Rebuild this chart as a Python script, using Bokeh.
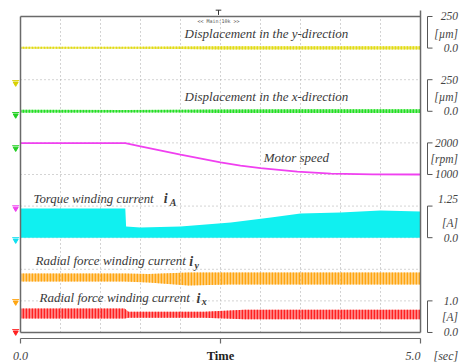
from bokeh.plotting import figure
from bokeh.models import Range1d, ColumnDataSource
from bokeh.core.properties import value
from bokeh.embed import file_html
from bokeh.resources import INLINE

# ---------------- data ----------------
# Displacement in the y-direction (um): envelope of the ripple
disp_y_t = [0.0, 1.3, 2.0, 2.5, 3.5, 5.0]
disp_y_hi = [10, 10, 12, 14, 15, 15]
disp_y_lo = [-6, -6, -8, -11, -12, -12]

# Displacement in the x-direction (um)
disp_x_t = [0.0, 1.3, 2.0, 2.5, 3.5, 5.0]
disp_x_hi = [12, 10, 12, 15, 16, 16]
disp_x_lo = [-12, -10, -10, -13, -13, -13]

# Motor speed (rpm)
speed_t = [0.0, 1.31, 1.5, 2.0, 2.5, 2.75, 3.0, 3.46, 3.88, 4.4, 5.0]
speed_rpm = [1990, 1990, 1890, 1630, 1380, 1280, 1200, 1090, 1030, 1005, 1000]

# Torque winding current iA (A): envelope of the dense band
ia_t = [0.0, 1.31, 1.32, 1.5, 2.0, 2.63, 3.13, 3.5, 4.0, 4.5, 5.0]
ia_hi = [1.15, 1.15, 0.44, 0.40, 0.44, 0.60, 0.80, 0.96, 1.00, 1.08, 1.04]
ia_lo = [0.0, 0.0, 0.0, 0.0, 0.0, 0.0, 0.0, 0.0, 0.0, 0.0, 0.0]

# Radial force winding current iy (A)
iy_t = [0.0, 1.3, 1.6, 2.1, 2.6, 5.0]
iy_hi = [0.87, 0.87, 0.85, 0.90, 0.90, 0.90]
iy_lo = [0.61, 0.61, 0.58, 0.49, 0.52, 0.52]

# Radial force winding current ix (A)
ix_t = [0.0, 1.3, 1.35, 2.3, 2.8, 5.0]
ix_hi = [0.76, 0.76, 0.66, 0.66, 0.72, 0.72]
ix_lo = [0.44, 0.44, 0.47, 0.47, 0.42, 0.42]

# channel settings: (zero level in divisions, units per division)
ch_disp_y = (9.0, 250.0)
ch_disp_x = (7.0, 250.0)
ch_speed = (4.0, 1000.0)
ch_ia = (3.0, 1.25)
ch_iy = (1.0, 1.0)
ch_ix = (0.0, 1.0)

# scale labels on the right
scale_top = ["250", "250", "2000", "1.25", "1.0"]
scale_unit = ["[\u00b5m]", "[\u00b5m]", "[rpm]", "[A]", "[A]"]
scale_bottom = ["0.0", "0.0", "1000", "0.0", "0.0"]

time_ticks = [0.0, 2.5, 5.0]
time_labels = ["0.0", "Time", "5.0"]


def to_div(vals, ch):
    zero, per = ch
    return [zero + v / per for v in vals]


# ---------------- figure ----------------
p = figure(width=465, height=362,
           x_range=Range1d(-0.25, 5.5625), y_range=Range1d(-0.950, 10.506),
           x_axis_type=None, y_axis_type=None,
           output_backend="svg", toolbar_location=None, min_border=0)
p.outline_line_color = None
p.background_fill_color = "white"
p.border_fill_color = "white"

GRID = "#a8a8a8"
FRAME = "#6a6a6a"
TXT = "#3a3a3a"
SERIF = value("Liberation Serif")

# grid (10 x 10 divisions)
gx = [0.5 * i for i in range(1, 10)]
gy = [float(i) for i in range(1, 10)]
p.segment(x0=gx, y0=[0] * len(gx), x1=gx, y1=[10] * len(gx),
          line_color=GRID, line_dash="1 3", line_width=1)
p.segment(x0=[0] * len(gy), y0=gy, x1=[5] * len(gy), y1=gy,
          line_color=GRID, line_dash="1 3", line_width=1)

# traces
p.varea(x=disp_y_t, y1=to_div(disp_y_lo, ch_disp_y), y2=to_div(disp_y_hi, ch_disp_y),
        fill_color="#e2dc10", fill_alpha=0.6, hatch_pattern="vertical_line",
        hatch_color="#e2dc10", hatch_scale=3, hatch_weight=1.5)
p.varea(x=disp_x_t, y1=to_div(disp_x_lo, ch_disp_x), y2=to_div(disp_x_hi, ch_disp_x),
        fill_color="#22e022", fill_alpha=0.6, hatch_pattern="vertical_line",
        hatch_color="#22e022", hatch_scale=3, hatch_weight=1.5)
p.line(x=speed_t, y=to_div(speed_rpm, ch_speed), line_color="#f040f0", line_width=1.8)
p.varea(x=ia_t, y1=to_div(ia_lo, ch_ia), y2=to_div(ia_hi, ch_ia),
        fill_color="#10f0f0")
p.varea(x=iy_t, y1=to_div(iy_lo, ch_iy), y2=to_div(iy_hi, ch_iy),
        fill_color="#ffa510", fill_alpha=0.55, hatch_pattern="vertical_line",
        hatch_color="#ffa510", hatch_scale=3, hatch_weight=1.5)
p.varea(x=ix_t, y1=to_div(ix_lo, ch_ix), y2=to_div(ix_hi, ch_ix),
        fill_color="#ff2020", fill_alpha=0.55, hatch_pattern="vertical_line",
        hatch_color="#ff2020", hatch_scale=3, hatch_weight=1.5)

# frame
p.segment(x0=[0, 0, 0, 5], y0=[0, 10, 0, 0], x1=[5, 5, 0, 5], y1=[0, 10, 10, 10.19],
          line_color=FRAME, line_width=1.5)

# trigger marker and header
p.segment(x0=[2.475], y0=[10.05], x1=[2.475], y1=[10.2], line_color="#333", line_width=1)
p.segment(x0=[2.44], y0=[10.2], x1=[2.51], y1=[10.2], line_color="#333", line_width=1)
p.text(x=[2.475], y=[9.86], text=["<< Main:10k >>"], text_font=value("DejaVu Sans Mono"),
       text_font_size="5px", text_color="#555", text_align="center", text_baseline="middle")

# ground markers at the left
mk_y = [7.88, 6.87, 5.82, 3.92, 2.91, 0.95, 0.0]
mk_c = ["#d8d000", "#22d022", "#22d022", "#f040f0", "#10e0f0", "#ffa510", "#ff2020"]
p.scatter(x=[-0.06] * len(mk_y), y=mk_y, marker="inverted_triangle", size=5,
          fill_color=mk_c, line_color=mk_c)
p.scatter(x=[-0.06] * len(mk_y), y=[v + 0.09 for v in mk_y], marker="dash", size=7,
          line_color=mk_c, line_width=1)

# trace labels
p.text(x=[3.04], y=[5.54], text=["Motor speed"], text_font=SERIF,
       text_font_style="italic", text_font_size="13px", text_color=TXT,
       text_baseline="middle")
p.text(x=[0.1625], y=[4.24], text=["Torque winding current"], text_font=SERIF,
       text_font_style="italic", text_font_size="12.8px", text_color=TXT,
       text_baseline="middle")
lab_rad = ColumnDataSource(dict(
    x=[0.1875, 0.2375], y=[2.28, 1.11],
    t=["Radial force winding current", "Radial force winding current"]))
p.text(x="x", y="y", text="t", source=lab_rad, text_font=SERIF, text_font_style="italic",
       text_font_size="13px", text_color=TXT, text_baseline="middle")
p.text(x=[2.05, 2.05], y=[9.46, 7.47],
       text=["Displacement in the y-direction", "Displacement in the x-direction"],
       text_font=SERIF, text_font_style="italic", text_font_size="13px",
       text_color=TXT, text_baseline="middle")
p.text(x=[1.79, 2.11, 2.2], y=[4.24, 2.24, 1.07], text=["i", "i", "i"],
       text_font=SERIF, text_font_style="bold italic", text_font_size="14px",
       text_color=TXT, text_baseline="middle")
p.text(x=[1.865, 2.175, 2.265], y=[4.11, 2.11, 0.97], text=["A", "y", "x"],
       text_font=SERIF, text_font_style="bold italic", text_font_size="10px",
       text_color=TXT, text_baseline="middle")

# right-hand scale brackets
b_top = [10.0, 8.0, 6.0, 4.0, 1.0]
b_bot = [9.0, 7.0, 5.0, 3.0, 0.0]
top_y = [10.03, 8.0, 6.01, 4.24, 1.01]
unit_y = [9.46, 7.44, 5.5, 3.48, 0.5]
bot_y = [8.99, 7.0, 5.0, 3.0, 0.03]
bx = 5.0875
bx2 = 5.15
n = len(b_top)
p.segment(x0=[bx] * n, y0=b_bot, x1=[bx] * n, y1=b_top, line_color="#555", line_width=1)
p.segment(x0=[bx] * n, y0=b_top, x1=[bx2] * n, y1=b_top, line_color="#555", line_width=1)
p.segment(x0=[bx] * n, y0=b_bot, x1=[bx2] * n, y1=b_bot, line_color="#555", line_width=1)
tx = [5.47] * n
for labels, ys in ((scale_top, top_y), (scale_unit, unit_y), (scale_bottom, bot_y)):
    p.text(x=tx, y=ys, text=labels, text_font=SERIF, text_font_style="italic",
           text_font_size="11.5px", text_color="#444", text_align="right",
           text_baseline="middle")

# time axis below the frame
p.segment(x0=[0], y0=[-0.19], x1=[5], y1=[-0.19], line_color=FRAME, line_width=1.2)
p.segment(x0=time_ticks, y0=[-0.19] * 3, x1=time_ticks, y1=[-0.35] * 3,
          line_color=FRAME, line_width=1.2)
p.text(x=[time_ticks[0]], y=[-0.73], text=[time_labels[0]], text_font=SERIF,
       text_font_style="italic", text_font_size="12px", text_color="#444",
       text_align="center", text_baseline="middle")
p.text(x=[time_ticks[1]], y=[-0.73], text=[time_labels[1]], text_font=SERIF,
       text_font_style="bold", text_font_size="12.5px", text_color="#222",
       text_align="center", text_baseline="middle")
p.text(x=[time_ticks[2]], y=[-0.73], text=[time_labels[2]], text_font=SERIF,
       text_font_style="italic", text_font_size="12px", text_color="#444",
       text_align="right", text_baseline="middle")
p.text(x=[5.1625], y=[-0.73], text=["[sec]"], text_font=SERIF,
       text_font_style="italic", text_font_size="12px", text_color="#444",
       text_align="left", text_baseline="middle")

open("out.html", "w").write(file_html(p, INLINE))
